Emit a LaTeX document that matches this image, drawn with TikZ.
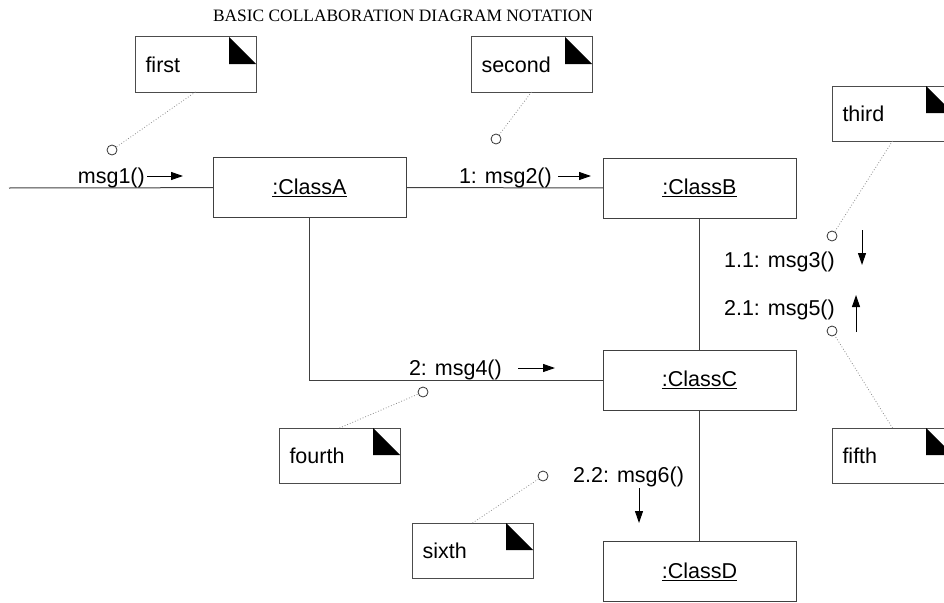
\documentclass[tikz,border=0pt]{standalone}
\usepackage{fontspec}
\setmainfont{Liberation Sans}
\newfontfamily\titlefont{Liberation Serif}
\usetikzlibrary{arrows.meta}
\newcommand{\lblfont}{\fontsize{21.5}{25}\selectfont}
\newcommand{\obj}[1]{\underline{#1}}
\tikzset{
  classbox/.style = {draw=black!75, line width=1pt, minimum width=193pt, minimum height=60pt, inner sep=0pt, outer sep=0pt},
  notebox/.style  = {draw=black!70, line width=1pt, anchor=north west, minimum height=55pt, text width=100pt, inner xsep=10.5pt, outer sep=0pt},
  notedot/.style  = {draw=black!80, circle, line width=0.8pt, minimum size=10pt, inner sep=0pt},
  link/.style     = {black!75, line width=1pt},
  noteln/.style   = {black!45, dotted, line width=0.8pt},
  msgarr/.style   = {-{Triangle[length=12pt,width=8pt]}, line width=1pt},
  msglbl/.style   = {inner sep=0pt}
}

\begin{document}
\begin{tikzpicture}[x=1pt,y=-1pt,font=\lblfont]
  \useasboundingbox (0,0) rectangle (944,602);
  \node[font=\titlefont\fontsize{17.4}{20}\selectfont] (title) at (403,16) {BASIC COLLABORATION DIAGRAM NOTATION};

  \node[classbox] (classA) at (309.5,187.5) {\obj{:ClassA}};
  \node[classbox] (classB) at (699.5,188)   {\obj{:ClassB}};
  \node[classbox] (classC) at (699.5,380)   {\obj{:ClassC}};
  \node[classbox] (classD) at (699.5,571.5) {\obj{:ClassD}};

  \coordinate (entry) at (9,188);
  \draw[link] (entry) -- (classA);
  \draw[link] (classA) -- (classB);
  \draw[link] (classB) -- (classC);
  \draw[link] (classC) -- (classD);
  \draw[link] (classA.south) |- (classC.west);

  \node[msglbl,anchor=east] (m1) at (145,178) {msg1()};
  \node[msglbl,anchor=east] (m2) at (552,178) {1: msg2()};
  \node[msglbl,anchor=east] (m3) at (835,262) {1.1: msg3()};
  \node[msglbl,anchor=east] (m4) at (502,370) {2: msg4()};
  \node[msglbl,anchor=east] (m5) at (835,310) {2.1: msg5()};
  \node[msglbl,anchor=west] (m6) at (573,477) {2.2: msg6()};

  \draw[msgarr] ([shift={(2,-2)}]m1.east) -- ++(36,0);
  \draw[msgarr] ([shift={(6,-2)}]m2.east) -- ++(33,0);
  \draw[msgarr] ([shift={(27,-32)}]m3.east) -- ++(0,35);
  \draw[msgarr] ([shift={(16,-2)}]m4.east) -- ++(37,0);
  \draw[msgarr] ([shift={(21,22)}]m5.east) -- ++(0,-37);
  \draw[msgarr] ([shift={(66,11)}]m6.west) -- ++(0,35);

  \node[notebox] (first)  at (135,37)  {first};
  \node[notebox] (second) at (471,37)  {second};
  \node[notebox] (third)  at (832,86)  {third};
  \node[notebox] (fourth) at (279,428) {fourth};
  \node[notebox] (fifth)  at (832,428) {fifth};
  \node[notebox] (sixth)  at (412,523) {sixth};
  \foreach \n in {first,second,third,fourth,fifth,sixth}
    \fill (\n.north east) ++(-27,0) -- ++(0,27) -- ++(27,0) -- cycle;

  \node[notedot] (d1) at (112,150) {};
  \node[notedot] (d2) at (496,139) {};
  \node[notedot] (d3) at (832,236) {};
  \node[notedot] (d4) at (423,392) {};
  \node[notedot] (d5) at (832,331) {};
  \node[notedot] (d6) at (543,476) {};

  \draw[noteln] (first.south)  -- (d1);
  \draw[noteln] (second.south) -- (d2);
  \draw[noteln] (third.south)  -- (d3);
  \draw[noteln] (fourth.north) -- (d4);
  \draw[noteln] (fifth.north)  -- (d5);
  \draw[noteln] (sixth.north)  -- (d6);
\end{tikzpicture}
\end{document}
